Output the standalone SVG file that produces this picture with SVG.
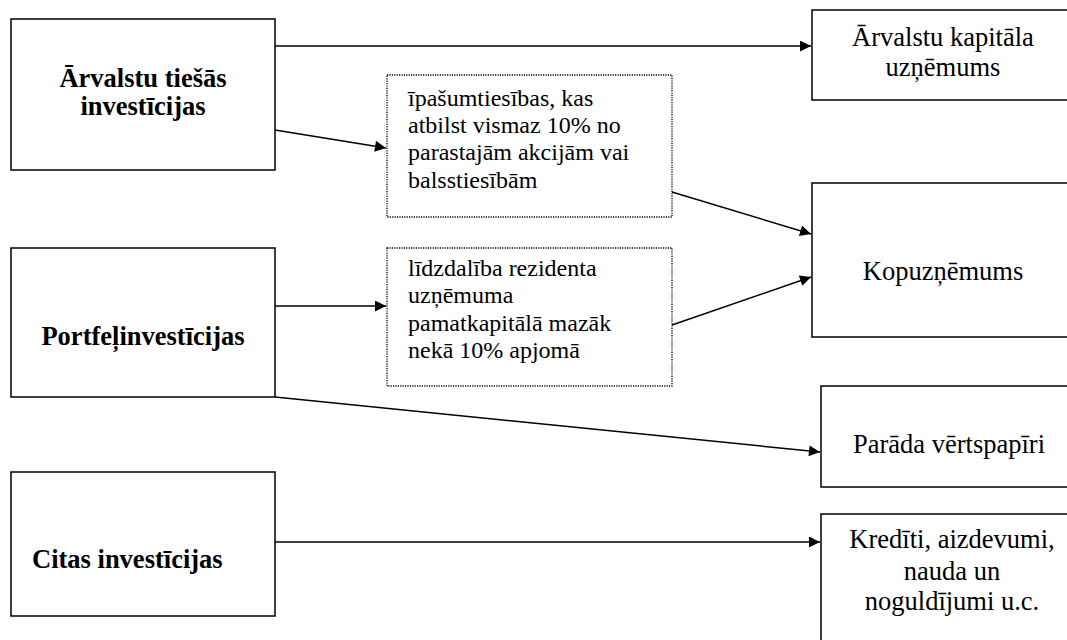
<svg xmlns="http://www.w3.org/2000/svg" width="1067" height="640" viewBox="0 0 1067 640">
<style>
.box{fill:#fff;stroke:#000;stroke-width:1.5}
.dot{fill:#fff;stroke:#000;stroke-width:1.3;stroke-dasharray:1.2 1.2}
.bold{font-family:"Liberation Serif","Times New Roman",serif;font-weight:bold;font-size:26.5px;fill:#000}
.note{font-family:"Liberation Serif","Times New Roman",serif;font-size:24px;fill:#000}
.lbl{font-family:"Liberation Serif","Times New Roman",serif;font-size:26.5px;fill:#000;text-anchor:middle}
.c{stroke:#000;stroke-width:1.5;fill:none;marker-end:url(#ah)}
</style>
<defs>
<marker id="ah" viewBox="0 0 10 10" refX="10" refY="5" markerWidth="13" markerHeight="11" markerUnits="userSpaceOnUse" orient="auto">
<path d="M0,0 L10,5 L0,10 Z" fill="#000"/>
</marker>
</defs>
<rect width="1067" height="640" fill="#fff"/>
<g id="connectors">
<line class="c" x1="275" y1="46" x2="811" y2="46"/>
<line class="c" x1="275" y1="130" x2="386" y2="148"/>
<line class="c" x1="672" y1="192" x2="811" y2="234"/>
<line class="c" x1="672" y1="325" x2="811" y2="277"/>
<line class="c" x1="275" y1="306" x2="386" y2="306"/>
<line class="c" x1="275" y1="397" x2="820" y2="452"/>
<line class="c" x1="275" y1="542" x2="820" y2="542"/>
</g>
<g id="n-arvalstu-tiesas">
<rect class="box" x="11" y="19" width="264" height="151"/>
<text class="bold" x="143" y="87" text-anchor="middle">Ārvalstu tiešās</text>
<text class="bold" x="143" y="115" text-anchor="middle">investīcijas</text>
</g>
<g id="n-portfel">
<rect class="box" x="11" y="248" width="264" height="149"/>
<text class="bold" x="143" y="345" text-anchor="middle">Portfeļinvestīcijas</text>
</g>
<g id="n-citas">
<rect class="box" x="11" y="472" width="264" height="144"/>
<text class="bold" x="32" y="568">Citas investīcijas</text>
</g>
<g id="n-ipasum">
<rect class="dot" x="387" y="75" width="285" height="142"/>
<text class="note" font-family="Liberation Serif" x="408" y="106">īpašumtiesības, kas</text>
<text class="note" font-family="Liberation Serif" x="408" y="133">atbilst vismaz 10% no</text>
<text class="note" font-family="Liberation Serif" x="408" y="160">parastajām akcijām vai</text>
<text class="note" font-family="Liberation Serif" x="408" y="188">balsstiesībām</text>
</g>
<g id="n-lidzdaliba">
<rect class="dot" x="387" y="248" width="285" height="138"/>
<text class="note" font-family="Liberation Serif" x="408" y="276">līdzdalība rezidenta</text>
<text class="note" font-family="Liberation Serif" x="408" y="303">uzņēmuma</text>
<text class="note" font-family="Liberation Serif" x="408" y="331">pamatkapitālā mazāk</text>
<text class="note" font-family="Liberation Serif" x="408" y="358">nekā 10% apjomā</text>
</g>
<g id="n-arvalstu-kapitala">
<rect class="box" x="812" y="10" width="270" height="90"/>
<text class="lbl" x="943" y="46">Ārvalstu kapitāla</text>
<text class="lbl" x="943" y="76">uzņēmums</text>
</g>
<g id="n-kopuznemums">
<rect class="box" x="812" y="183" width="270" height="154"/>
<text class="lbl" x="943" y="280">Kopuzņēmums</text>
</g>
<g id="n-parada">
<rect class="box" x="821" y="386" width="260" height="101"/>
<text class="lbl" x="949" y="453">Parāda vērtspapīri</text>
</g>
<g id="n-krediti">
<rect class="box" x="821" y="514" width="260" height="140"/>
<text class="lbl" x="952" y="548">Kredīti, aizdevumi,</text>
<text class="lbl" x="952" y="580">nauda un</text>
<text class="lbl" x="952" y="610">noguldījumi u.c.</text>
</g>
</svg>
